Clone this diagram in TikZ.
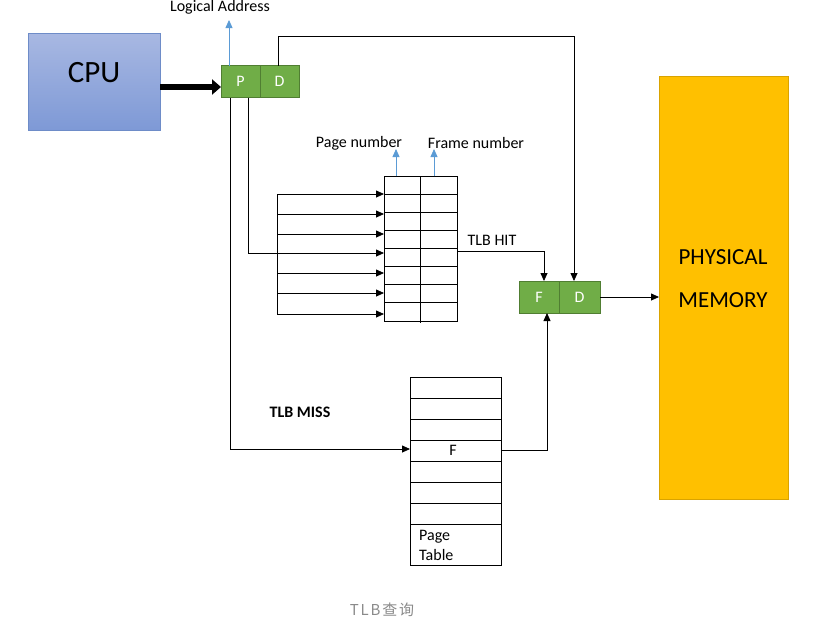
\documentclass[tikz,border=0pt]{standalone}
\usepackage{fontspec}
\setmainfont{Carlito}
\newfontfamily\cjk[LetterSpace=12]{Noto Sans CJK SC}
\usetikzlibrary{arrows.meta}
\definecolor{gfill}{HTML}{70AD47}
\definecolor{gdraw}{HTML}{507E32}
\definecolor{mfill}{HTML}{FFC000}
\definecolor{mdraw}{HTML}{D9A300}
\definecolor{ctop}{RGB}{168,184,226}
\definecolor{cbot}{RGB}{126,153,214}
\definecolor{cdraw}{RGB}{110,140,200}
\definecolor{bl}{HTML}{5B9BD5}
\definecolor{capgray}{HTML}{8A8A8A}
\begin{document}
\begin{tikzpicture}[x=1pt,y=-1pt,
  lbl/.style={font=\fontsize{16}{19}\selectfont, inner sep=0pt},
  gcell/.style={draw=gdraw, fill=gfill, text=white, line width=0.8pt, inner sep=0pt, outer sep=0pt, minimum height=32pt, font=\fontsize{16}{19}\selectfont},
  arr/.style={-{Triangle[length=8pt,width=7pt]}, line width=0.8pt},
  barr/.style={-{Triangle[length=8pt,width=7pt]}, line width=0.8pt, draw=bl, fill=bl},
  tbl/.style={draw, line width=0.8pt, inner sep=0pt, outer sep=0pt}
]
\useasboundingbox (0,0) rectangle (827,625);

% CPU
\node[draw=cdraw, top color=ctop, bottom color=cbot, line width=0.8pt, minimum width=132pt, minimum height=97pt, inner sep=0pt, outer sep=0pt] (cpu) at (94,81.5) {};
\node[font=\fontsize{31}{36}\selectfont, inner sep=0pt] (cputxt) at (94,73) {CPU};

% logical address P D
\node[gcell, minimum width=39pt] (P) at (240.5,81.5) {P};
\node[gcell, minimum width=39pt] (D) at (279.5,81.5) {D};
\node[lbl] (la) at (220,7) {Logical Address};

% thick arrow
\coordinate (cpuy) at (0,87);
\draw[line width=6pt, -{Triangle[length=9pt,width=15pt]}] (cpuy -| cpu.east) -- (cpuy -| P.west);

% blue up arrow
\coordinate (latip) at (229,20);
\draw[barr] (latip |- P.north) -- (latip);

% physical memory
\node[draw=mdraw, fill=mfill, line width=0.8pt, minimum width=129pt, minimum height=423pt, inner sep=0pt, outer sep=0pt] (mem) at (723.5,287.5) {};
\node[font=\fontsize{23}{27}\selectfont, inner sep=0pt] (memt1) at (723,257) {PHYSICAL};
\node[font=\fontsize{23}{27}\selectfont, inner sep=0pt] (memt2) at (723,300) {MEMORY};

% F D
\node[gcell, minimum width=40pt] (F) at (539,297) {F};
\node[gcell, minimum width=41pt] (D2) at (579.5,297) {D};

% D line to D2
\coordinate (dx) at (278,0);
\coordinate (dcorner) at (574,36);
\draw[arr] (dx |- D.north) -- (dx |- dcorner) -- (dcorner) -- (dcorner |- D2.north);

% D2 to memory
\draw[arr] (D2.east) -- (D2.east -| mem.west);

% TLB
\node[tbl, minimum width=73pt, minimum height=145pt] (tlb) at (420.5,248.5) {};
\foreach \k in {1,...,7} {
  \draw[line width=0.8pt] ([yshift=-18.125*\k pt]tlb.north west) -- ([yshift=-18.125*\k pt]tlb.north east);
}
\draw[line width=0.8pt] (tlb.north) -- ([yshift=-2pt]tlb.south);
\node[lbl] (pnl) at (359,143) {Page number};
\node[lbl] (fnl) at (476,143) {Frame number};
\coordinate (pntip) at (396,149);
\coordinate (fntip) at (434,149);
\draw[barr] (pntip |- tlb.north) -- (pntip);
\draw[barr] (fntip |- tlb.north) -- (fntip);

% P to TLB bracket
\coordinate (pl2) at (248,253);
\coordinate (br) at (277,253);
\draw[line width=0.8pt] (pl2 |- P.south) -- (pl2) -- (br);
\coordinate (brtop) at (277,194);
\coordinate (brbot) at (277,314);
\draw[line width=0.8pt] (brtop) -- (brbot);
\foreach \y [count=\i] in {194,214,234,253,273,293,314} {
  \coordinate (b\i) at (277,\y);
  \draw[arr] (b\i) -- (b\i -| tlb.west);
}

% TLB HIT
\node[lbl] (hit) at (492,240) {TLB HIT};
\coordinate (hitc) at (544,251);
\draw[arr] (hitc -| tlb.east) -- (hitc) -- (hitc |- F.north);

% page table
\node[tbl, minimum width=91pt, minimum height=188pt] (pt) at (455.5,471) {};
\foreach \k in {1,...,7} {
  \draw[line width=0.8pt] ([yshift=-21*\k pt]pt.north west) -- ([yshift=-21*\k pt]pt.north east);
}
\node[lbl] (ftxt) at (453,450.5) {F};
\node[lbl, anchor=west, align=left, font=\fontsize{16}{20}\selectfont] (ptt) at (419,545) {Page\\Table};

% TLB MISS
\node[lbl, font=\fontsize{16}{19}\selectfont\bfseries] (miss) at (300,412) {TLB MISS};
\coordinate (pl1) at (230,449);
\draw[arr] (pl1 |- P.south) -- (pl1) -- (pl1 -| pt.west);

% page table F to F box
\coordinate (missc) at (547,450);
\draw[arr] (missc -| pt.east) -- (missc) -- (missc |- F.south);

% caption
\node[text=capgray, font=\fontsize{15}{18}\selectfont\cjk, inner sep=0pt] (cap) at (382,610) {TLB查询};
\end{tikzpicture}
\end{document}
